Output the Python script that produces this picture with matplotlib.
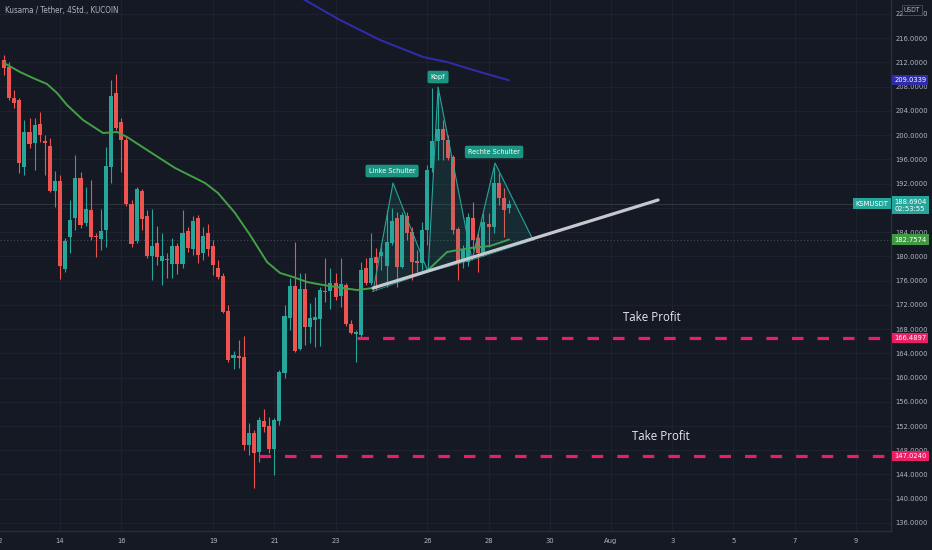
import matplotlib
matplotlib.use('Agg')
import matplotlib.pyplot as plt
import matplotlib.transforms as mtransforms
from matplotlib import font_manager
from matplotlib.font_manager import FontProperties
import numpy as np
import pandas as pd

# ---------------- fonts ----------------
_narrow_file = None
_pref = ['Liberation Sans Narrow', 'DejaVu Sans', 'Roboto', 'Open Sans', 'Noto Sans', 'Lato']
_cands = [f for f in font_manager.fontManager.ttflist
          if (f.name == 'Liberation Sans Narrow' or str(f.stretch) in ('condensed', 'semi-condensed'))
          and f.style == 'normal' and f.weight in (400, 'normal', 'regular')]
for nm in _pref:
    for f in _cands:
        if f.name == nm:
            _narrow_file = f.fname
            break
    if _narrow_file:
        break
if _narrow_file:
    def NFP(size):
        return FontProperties(fname=_narrow_file, size=size)
else:
    def NFP(size):
        return FontProperties(family='Liberation Sans', size=size)

# ---------------- data ----------------
title = 'Kusama / Tether, 4Std., KUCOIN'
first_candle = '2021-07-12 04:00'

opens = [212.37, 211.22, 206.10, 205.77, 194.72, 200.50, 198.68, 201.82, 199.01, 198.19,
         190.76, 192.41, 177.90, 183.18, 186.31, 192.91, 185.49, 187.63, 183.34, 182.85,
         184.33, 194.72, 206.93, 202.15, 199.18, 188.62, 182.52, 190.76, 186.64, 180.04,
         182.19, 179.22, 179.55, 178.72, 181.69, 178.72, 184.17, 181.20, 186.31, 180.54,
         183.84, 181.69, 178.06, 176.74, 170.97, 163.22, 163.55, 163.38, 148.87, 150.85,
         147.71, 152.83, 152.00, 148.20, 152.83, 160.74, 169.81, 175.09, 164.70, 174.60,
         168.33, 169.49, 169.65, 174.27, 174.27, 175.59, 173.44, 175.26, 168.83, 167.18,
         167.01, 178.06, 175.59, 179.88, 180.04, 178.39, 182.19, 186.31, 178.23, 186.64,
         183.99, 179.22, 178.89, 184.33, 194.56, 199.01, 200.99, 199.18, 196.37, 184.50,
         179.05, 179.05, 186.31, 183.01, 180.54, 185.32, 184.83, 192.08, 189.61, 187.96]
highs = [213.20, 212.04, 207.42, 206.10, 202.48, 202.81, 202.81, 203.80, 199.98, 199.51,
         194.06, 193.40, 183.01, 189.28, 196.70, 193.90, 191.42, 192.58, 183.84, 187.80,
         198.02, 209.07, 210.06, 202.81, 199.84, 189.28, 191.42, 191.09, 187.63, 187.80,
         184.99, 183.84, 180.54, 183.01, 182.19, 187.63, 184.83, 186.64, 186.81, 184.83,
         185.32, 182.68, 179.38, 177.24, 171.96, 164.37, 166.19, 166.85, 152.50, 151.34,
         153.49, 154.81, 153.49, 153.32, 161.24, 171.96, 176.41, 182.35, 177.24, 177.24,
         172.29, 173.28, 174.93, 179.71, 178.06, 177.24, 179.71, 175.59, 169.49, 167.84,
         179.05, 179.71, 183.84, 181.36, 182.19, 187.63, 187.96, 187.30, 187.30, 187.30,
         184.83, 181.03, 185.65, 195.05, 207.75, 207.09, 202.48, 199.98, 196.70, 184.83,
         181.86, 187.14, 188.95, 183.84, 187.14, 187.14, 194.72, 193.73, 191.26, 189.28]
lows = [209.90, 205.78, 204.46, 193.73, 193.40, 197.86, 194.23, 198.85, 193.40, 190.60,
        188.12, 176.25, 177.40, 180.54, 184.33, 184.66, 184.99, 182.68, 179.88, 181.03,
        181.53, 192.08, 200.83, 193.90, 188.29, 181.53, 182.19, 184.33, 179.71, 176.08,
        178.56, 175.26, 176.41, 176.41, 177.07, 178.06, 180.70, 180.21, 178.89, 179.38,
        180.04, 176.91, 176.25, 170.64, 162.56, 161.40, 161.57, 148.04, 147.22, 141.77,
        146.06, 151.01, 147.55, 143.92, 152.17, 159.92, 167.84, 164.21, 164.54, 165.36,
        165.69, 165.03, 165.20, 172.45, 171.30, 172.78, 171.63, 168.50, 167.18, 162.56,
        166.68, 175.26, 175.26, 174.43, 177.73, 174.93, 181.86, 174.93, 178.06, 182.68,
        176.08, 177.40, 177.73, 181.86, 193.90, 195.88, 195.88, 195.88, 183.67, 176.08,
        178.06, 178.39, 181.03, 177.40, 180.04, 181.53, 183.84, 188.45, 183.18, 187.14]
closes = [211.05, 206.10, 205.28, 195.38, 200.50, 198.52, 201.65, 199.98, 198.68, 190.76,
          192.41, 178.39, 182.52, 185.98, 192.91, 185.16, 187.80, 183.18, 183.18, 184.17,
          194.89, 206.43, 201.16, 199.18, 188.62, 182.02, 191.09, 186.14, 180.04, 181.69,
          179.88, 180.04, 179.38, 181.69, 178.72, 183.84, 181.36, 185.82, 180.21, 183.34,
          181.20, 178.56, 176.58, 170.80, 162.89, 163.71, 163.22, 148.87, 150.85, 147.55,
          152.99, 151.84, 148.20, 152.99, 160.91, 170.14, 175.09, 164.37, 174.60, 168.33,
          169.81, 169.98, 174.43, 174.10, 175.59, 173.28, 175.42, 168.83, 167.34, 167.51,
          177.73, 175.59, 179.71, 178.89, 180.70, 182.35, 185.82, 178.23, 186.81, 183.84,
          179.05, 178.89, 184.33, 194.23, 199.01, 200.99, 199.18, 196.21, 184.33, 179.05,
          181.03, 186.47, 182.68, 180.54, 185.65, 184.83, 192.08, 189.61, 187.63, 188.69]

# moving average (green) sampled along its course: candle index, price
ma_x = [0, 3.14, 5.69, 8.43, 10.39, 12.35, 15.49, 19.41, 22.16, 24.12, 28.04, 33.53, 39.41,
        41.96, 45.29, 48.24, 51.57, 54.12, 56.67, 59.41, 62.55, 66.47, 69.22, 72.35, 77.65,
        82.94, 86.86, 91.37, 95.29, 99.0]
ma_y = [211.88, 210.39, 209.40, 208.41, 206.93, 204.95, 202.48, 200.33, 200.50, 199.67,
        197.53, 194.56, 192.08, 190.43, 187.14, 183.51, 179.05, 177.24, 176.58, 175.75,
        175.26, 174.76, 174.43, 174.76, 176.08, 177.57, 180.70, 181.36, 181.69, 182.76]

# long moving average (indigo)
ma2_x = [56.1, 59.0, 65.88, 73.73, 82.16, 86.86, 93.33, 99.0]
ma2_y = [223.6, 222.27, 218.97, 215.67, 212.87, 212.04, 210.39, 209.03]

# head & shoulders points (candle index, price)
hs_x = [72.35, 76.27, 83.14, 85.10, 91.76, 96.27, 103.73]
hs_y = [174.2, 192.08, 177.40, 207.92, 179.38, 195.38, 182.68]
hs_labels = ['Linke Schulter', 'Kopf', 'Rechte Schulter']
hs_label_x = [76.08, 85.10, 96.08]
hs_label_y = [194.06, 209.57, 197.20]

# trend line
trend_x = [72.35, 128.24]
trend_y = [174.76, 189.28]

# take profit levels
tp_prices = [166.4897, 147.0240]
tp_start = [69.2, 50.0]
tp_text = 'Take Profit'
tp_text_x = [127.06, 128.8]
tp_text_y = [169.82, 150.19]

last_price = 188.6904
countdown = '02:53:55'
ma_last = 182.7574
ma2_last = 209.0339
symbol = 'KSMUSDT'

y_ticks = list(range(136, 221, 4))
day_dates = ['2021-07-12', '2021-07-14', '2021-07-16', '2021-07-19', '2021-07-21', '2021-07-23',
             '2021-07-26', '2021-07-28', '2021-07-30', '2021-08-01', '2021-08-03',
             '2021-08-05', '2021-08-07', '2021-08-09']
day_labels = ['12', '14', '16', '19', '21', '23', '26', '28', '30', 'Aug', '3', '5', '7', '9']

# ---------------- style ----------------
BG = '#151924'
GRID = '#1e2230'
TXT = '#b2b5be'
GREEN = '#26a69a'
RED = '#ef5350'
PINK = '#e91e63'
MA_C = '#43a047'
MA2_C = '#2e2ca6'

fig = plt.figure(figsize=(9.32, 5.5), dpi=100, facecolor=BG)
_r = fig.canvas.get_renderer()


def fit_size(text, px):
    t = fig.text(0, 0, text, fontproperties=NFP(10))
    w = t.get_window_extent(_r).width
    t.remove()
    return 10 * px / w


FS = fit_size('216.0000', 32)
FS_TITLE = fit_size(title, 114)
FS_HS = fit_size('Rechte Schulter', 52)

ax = fig.add_axes([0, 19 / 550, 891 / 932, 531 / 550])
ax.set_facecolor(BG)

XMIN, XMAX = -0.784, 173.9
YMIN, YMAX = 134.68, 222.27
ax.set_xlim(XMIN, XMAX)
ax.set_ylim(YMIN, YMAX)

o = np.array(opens); h = np.array(highs); l = np.array(lows); c = np.array(closes)
idx = np.arange(len(o))
cols = np.where(c >= o, GREEN, RED)
ax.vlines(idx, l, h, colors=cols, lw=0.8, zorder=3)
ax.bar(idx, np.maximum(np.abs(c - o), 0.18), bottom=np.minimum(o, c), width=0.8,
       color=cols, linewidth=0, zorder=4)

# price lines
ax.axhline(last_price, color='#2f3441', lw=0.8, zorder=1)
ax.axhline(ma_last, color='#454a57', lw=0.8, ls=(0, (1, 2)), zorder=1)

# moving averages
ax.plot(ma_x, ma_y, color=MA_C, lw=1.4, zorder=5, solid_capstyle='round')
ax.plot(ma2_x, ma2_y, color=MA2_C, lw=1.5, zorder=5, solid_capstyle='round')

# head & shoulders pattern
for k in range(3):
    tx = [hs_x[2 * k], hs_x[2 * k + 1], hs_x[2 * k + 2]]
    ty = [hs_y[2 * k], hs_y[2 * k + 1], hs_y[2 * k + 2]]
    ax.fill(tx, ty, color=GREEN, alpha=0.13, lw=0, zorder=6)
ax.plot(hs_x, hs_y, color=GREEN, lw=0.8, zorder=6)
ax.plot(hs_x[::2], hs_y[::2], color=GREEN, lw=0.6, alpha=0.8, zorder=6)

# trend line
ax.plot(trend_x, trend_y, color='#c5c8cf', lw=2.3, zorder=7, solid_capstyle='round')

for lab, lx, ly in zip(hs_labels, hs_label_x, hs_label_y):
    ax.text(lx, ly, lab, ha='center', va='center', fontproperties=NFP(FS_HS), color='white', zorder=9,
            bbox=dict(boxstyle='round,pad=0.45,rounding_size=0.25', fc='#1b9582', ec='none'))

# take profit lines
for p, s in zip(tp_prices, tp_start):
    ax.plot([s, XMAX], [p, p], color=PINK, lw=2.3, ls=(0, (3.6, 4.4)),
            solid_capstyle='butt', dash_capstyle='butt', zorder=7)
for tx, ty in zip(tp_text_x, tp_text_y):
    ax.text(tx, ty, tp_text, ha='center', va='center', fontsize=8.3, color='#e8e9ec',
            family=['Open Sans', 'DejaVu Sans'], zorder=9)

# grid / axes
ax.set_yticks(y_ticks)
ax.set_yticklabels([f'{v:.4f}' for v in y_ticks])
ax.yaxis.tick_right()
day_idx = [(pd.Timestamp(d) - pd.Timestamp(first_candle)) / pd.Timedelta('4h') for d in day_dates]
ax.set_xticks(day_idx[1:])
ax.set_xticklabels(day_labels[1:])
ax.tick_params(axis='y', length=0, pad=3, labelcolor=TXT)
ax.tick_params(axis='x', length=0, pad=5, labelcolor=TXT)
for t in ax.get_yticklabels() + ax.get_xticklabels():
    t.set_fontproperties(NFP(FS))
ax.text(day_idx[0], 0.0, day_labels[0],
        transform=mtransforms.offset_copy(
            mtransforms.blended_transform_factory(ax.transData, ax.transAxes),
            fig=fig, y=-5, units='points'),
        ha='center', va='top', fontproperties=NFP(FS), color=TXT, clip_on=False)
ax.grid(True, color=GRID, lw=0.8)
ax.set_axisbelow(True)
for s in ['left', 'top']:
    ax.spines[s].set_visible(False)
for s in ['right', 'bottom']:
    ax.spines[s].set_color('#2a2e39')
    ax.spines[s].set_linewidth(1.0)

# price badges on the right axis
btr = mtransforms.blended_transform_factory(ax.transAxes, ax.transData)


def badge(price, text, fc, va='center'):
    ax.text(1.0035, price, text, transform=btr, ha='left', va=va, fontproperties=NFP(FS),
            color='white', linespacing=1.3, zorder=20, clip_on=False,
            bbox=dict(boxstyle='square,pad=0.3', fc=fc, ec='none'))


badge(ma2_last, f'{ma2_last:.4f}', MA2_C)
badge(last_price + 0.8, f'{last_price:.4f}\n{countdown}', GREEN, va='top')
badge(ma_last, f'{ma_last:.4f}', '#3f9a41')
for p in tp_prices:
    badge(p, f'{p:.4f}', PINK)
ax.text(0.997, last_price, symbol, transform=btr, ha='right', va='center', fontproperties=NFP(FS),
        color='white', zorder=20, clip_on=False,
        bbox=dict(boxstyle='square,pad=0.35', fc=GREEN, ec='none'))

# title & currency tag
fig.text(5 / 932, 1 - 11 / 550, title, fontproperties=NFP(FS_TITLE), color=TXT, ha='left', va='center')
fig.text(912 / 932, 1 - 10 / 550, 'USDT', fontproperties=NFP(FS * 0.9), color=TXT, ha='center', va='center',
         bbox=dict(boxstyle='square,pad=0.3', fc=BG, ec='#4a4e5a', lw=0.6), zorder=30)

fig.savefig('out.png', dpi=100, facecolor=BG)
